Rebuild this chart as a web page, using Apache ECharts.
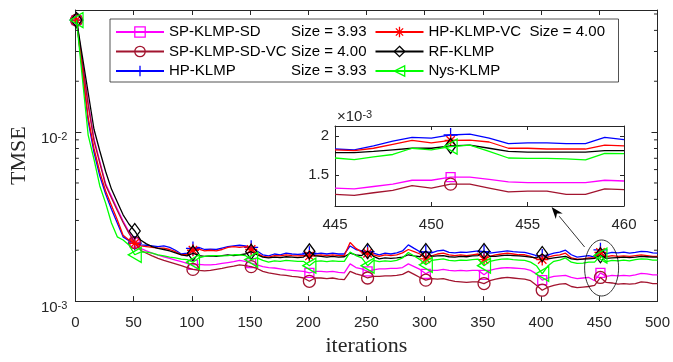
<!DOCTYPE html>
<html><head><meta charset="utf-8">
<script src="https://cdn.jsdelivr.net/npm/echarts@6/dist/echarts.min.js"></script>
<style>html,body{margin:0;padding:0;background:#fff}#c{width:673px;height:362px}</style>
</head><body><div id="c"></div>
<script>
// ---------- data (TMSE values in units of 1e-3) ----------
const iterations = [1,6,11,16,21,26,31,36,41,46,51,56,61,66,71,76,81,86,91,96,101,106,111,116,121,126,131,136,141,146,151,156,161,166,171,176,181,186,191,196,201,206,211,216,221,226,231,236,241,246,251,256,261,266,271,276,281,286,291,296,301,306,311,316,321,326,331,336,341,346,351,356,361,366,371,376,381,386,391,396,401,406,411,416,421,426,431,436,441,446,451,456,461,466,471,476,481,486,491,496,500];

const seriesNames = ['SP-KLMP-SD','SP-KLMP-SD-VC','HP-KLMP','HP-KLMP-VC','RF-KLMP','Nys-KLMP'];
const sizeLabels  = ['3.93','4.00','3.93','4.00','',''];
const legendOrder = ['SP-KLMP-SD','HP-KLMP-VC','SP-KLMP-SD-VC','RF-KLMP','HP-KLMP','Nys-KLMP'];
const legendCol2  = ['HP-KLMP-VC','RF-KLMP','Nys-KLMP'];

const spSD = [46,26.2,14.9,9.12,6.71,4.94,4.17,3.52,2.98,2.57,
 2.22,2.05,1.98,1.92,1.87,1.83,1.79,1.75,1.71,1.67,
 1.64,1.65,1.64,1.64,1.65,1.67,1.69,1.71,1.74,1.72,
 1.68,1.64,1.60,1.58,1.57,1.55,1.53,1.52,1.51,1.50,
 1.47,1.50,1.50,1.49,1.50,1.48,1.47,1.66,1.58,1.55,
 1.50,1.53,1.55,1.55,1.56,1.56,1.58,1.66,1.60,1.54,
 1.45,1.52,1.52,1.54,1.52,1.51,1.52,1.51,1.52,1.52,
 1.43,1.52,1.55,1.57,1.58,1.57,1.56,1.55,1.52,1.45,
 1.33,1.37,1.40,1.41,1.42,1.38,1.36,1.37,1.38,1.32,
 1.47,1.40,1.42,1.41,1.42,1.41,1.43,1.46,1.45,1.43,
 1.43];
const spSDVC = [46,25.6,14.5,8.9,6.55,4.85,4.08,3.44,2.92,2.52,
 2.22,2.00,1.92,1.85,1.79,1.74,1.70,1.66,1.62,1.58,
 1.54,1.52,1.51,1.52,1.54,1.56,1.59,1.61,1.64,1.62,
 1.60,1.56,1.50,1.47,1.45,1.43,1.42,1.40,1.39,1.37,
 1.31,1.37,1.37,1.36,1.37,1.35,1.34,1.50,1.45,1.42,
 1.37,1.40,1.40,1.41,1.41,1.42,1.44,1.50,1.44,1.38,
 1.33,1.36,1.35,1.36,1.33,1.31,1.30,1.29,1.30,1.30,
 1.27,1.32,1.35,1.37,1.38,1.37,1.36,1.35,1.32,1.24,
 1.16,1.21,1.24,1.26,1.27,1.22,1.20,1.21,1.22,1.24,
 1.38,1.29,1.28,1.26,1.27,1.26,1.27,1.30,1.29,1.27,
 1.27];
const hp = [46,23.0,11.6,7.6,5.5,4.3,3.5,2.9,2.4,2.28,
 2.20,2.15,2.14,2.12,2.10,2.12,2.08,2.00,1.90,1.92,
 2.05,2.08,2.02,2.03,2.02,2.06,2.10,2.12,2.14,2.12,
 2.08,1.98,1.88,1.85,1.90,1.88,1.92,1.90,1.89,1.90,
 1.92,1.90,1.92,1.90,1.92,1.90,1.90,2.12,2.02,1.98,
 1.96,1.92,1.88,1.92,1.90,1.93,1.98,2.15,2.05,1.96,
 1.95,1.93,1.98,2.00,1.94,1.93,1.95,1.94,1.96,1.98,
 1.96,1.92,1.94,1.96,1.98,1.96,1.95,1.94,1.90,1.86,
 1.85,1.88,1.92,1.95,2.00,1.88,1.82,1.84,1.86,1.82,
 2.01,1.91,1.94,1.93,1.95,1.92,1.94,1.97,1.96,1.93,
 1.92];
const hpVC = [46,23.7,12.2,8.0,5.8,4.48,3.68,3.03,2.45,2.30,
 2.20,2.12,2.10,2.08,2.06,2.06,2.02,1.96,1.88,1.88,
 2.00,2.03,1.98,2.00,1.98,2.02,2.08,2.10,2.08,2.10,
 2.02,1.92,1.84,1.82,1.86,1.85,1.88,1.86,1.85,1.86,
 1.85,1.86,1.88,1.86,1.88,1.86,1.86,2.22,2.05,1.95,
 1.92,1.88,1.84,1.88,1.86,1.88,1.93,2.02,1.96,1.90,
 1.78,1.85,1.90,1.92,1.88,1.86,1.88,1.86,1.88,1.90,
 1.76,1.84,1.88,1.90,1.92,1.90,1.88,1.88,1.84,1.78,
 1.76,1.82,1.86,1.88,1.92,1.80,1.77,1.78,1.80,1.81,
 1.94,1.83,1.86,1.84,1.85,1.84,1.86,1.88,1.86,1.84,
 1.84];
const rf = [46,28.1,17.1,10.4,7.73,5.85,4.6,3.86,3.24,2.86,
 2.60,2.30,2.18,2.10,2.05,2.02,1.98,1.93,1.88,1.85,
 1.92,1.86,1.84,1.85,1.84,1.86,1.88,1.86,1.88,1.90,
 1.96,1.88,1.82,1.80,1.82,1.81,1.83,1.82,1.81,1.82,
 1.97,1.85,1.84,1.82,1.84,1.82,1.83,1.92,1.88,1.86,
 1.98,1.84,1.78,1.80,1.79,1.80,1.82,1.88,1.85,1.83,
 1.98,1.84,1.85,1.86,1.83,1.82,1.84,1.83,1.85,1.86,
 1.98,1.84,1.84,1.86,1.87,1.86,1.85,1.84,1.82,1.80,
 1.90,1.78,1.80,1.82,1.84,1.78,1.76,1.77,1.78,1.79,
 1.87,1.79,1.80,1.81,1.82,1.81,1.82,1.84,1.83,1.82,
 1.82];
const nys = [46,20.9,9.6,6.9,4.8,3.8,2.9,2.4,2.3,2.15,
 1.88,1.95,1.95,1.92,1.88,1.85,1.82,1.80,1.77,1.76,
 1.70,1.80,1.84,1.86,1.86,1.85,1.86,1.88,1.88,1.86,
 1.76,1.80,1.74,1.70,1.73,1.72,1.74,1.73,1.72,1.72,
 1.62,1.72,1.73,1.71,1.73,1.72,1.72,1.95,1.86,1.80,
 1.62,1.74,1.71,1.73,1.72,1.74,1.80,1.94,1.85,1.76,
 1.64,1.74,1.76,1.78,1.74,1.73,1.75,1.74,1.76,1.77,
 1.62,1.72,1.75,1.77,1.78,1.76,1.75,1.74,1.70,1.62,
 1.45,1.62,1.72,1.75,1.80,1.70,1.67,1.68,1.70,1.70,
 1.86,1.71,1.74,1.73,1.75,1.73,1.76,1.78,1.77,1.75,
 1.75];

// zoomed inset (iterations 445..460)
const insetIter = [445,446,447,448,449,450,451,452,453,454,455,456,457,458,459,460];
const insetSD   = [1.33,1.32,1.35,1.38,1.43,1.43,1.47,1.47,1.44,1.41,1.40,1.40,1.40,1.40,1.43,1.42];
const insetSDVC = [1.25,1.235,1.27,1.30,1.36,1.33,1.38,1.38,1.33,1.28,1.29,1.29,1.25,1.25,1.32,1.31];
const insetHP   = [1.83,1.82,1.87,1.93,1.98,1.97,2.01,2.02,1.97,1.90,1.91,1.91,1.90,1.90,1.98,1.95];
const insetHPVC = [1.82,1.81,1.84,1.89,1.94,1.91,1.94,1.945,1.92,1.84,1.84,1.83,1.83,1.83,1.88,1.87];
const insetRF   = [1.785,1.785,1.80,1.82,1.84,1.84,1.87,1.88,1.84,1.80,1.79,1.79,1.79,1.79,1.81,1.81];
const insetNys  = [1.715,1.695,1.73,1.76,1.84,1.82,1.86,1.88,1.80,1.715,1.71,1.71,1.705,1.69,1.775,1.77];

const minorTickValues = [0.002,0.003,0.004,0.005,0.006,0.007,0.008,0.009,0.02,0.03,0.04,0.05];
const insetYTicks = [1.5, 2];

// ---------- styles ----------
const mainData = [spSD, spSDVC, hp, hpVC, rf, nys];
const insetData = [insetSD, insetSDVC, insetHP, insetHPVC, insetRF, insetNys];
const colors = ['#FF00FF','#A2142F','#0000FF','#FF0000','#000000','#00FF00'];
const symbols = ['rect','circle',
  'path://M5,0V10M0,5H10',
  'path://M5,0V10M0,5H10M1.5,1.5L8.5,8.5M1.5,8.5L8.5,1.5',
  'path://M5,0L10,7L5,14L0,7Z',
  'path://M0,5L10,0L10,10Z'];
const symbolSizes = [9, 12, 14, 12, [11,15], [13,15]];
const AX = '#262626';
const SANS = 'Liberation Sans';
const SERIF = 'Liberation Serif';

function lineSeries(k, xIdx, yIdx, data, isMarker, z) {
  return {
    type: 'line', name: (z > 5 ? 'inset ' : '') + seriesNames[k],
    xAxisIndex: xIdx, yAxisIndex: yIdx,
    data: data, symbol: symbols[k],
    symbolSize: (v) => isMarker(v[0]) ? symbolSizes[k] : 0,
    showSymbol: true, showAllSymbol: true,
    lineStyle: { color: colors[k], width: 1.3 },
    itemStyle: { color: 'rgba(0,0,0,0)', borderColor: colors[k], borderWidth: 1.3 },
    emphasis: { disabled: true }, silent: true, animation: false, z: z + k * 0.01, clip: true
  };
}

const series = [];
mainData.forEach((d, k) => series.push(lineSeries(k, 0, 0,
  iterations.map((x, i) => [x, d[i] * 1e-3]), x => x % 50 === 1 && x <= 451, 2)));
insetData.forEach((d, k) => series.push(lineSeries(k, 2, 2,
  insetIter.map((x, i) => [x, d[i]]), x => x === 451, 7)));

const expLabel = v => {
  const e = Math.log10(v), r = Math.round(e);
  if (Math.abs(e - r) > 1e-6) return '';
  return '{b|10}{s|' + r + '}';
};
const supRich = {
  b: { fontSize: 15, fontFamily: SANS, color: AX, lineHeight: 15, padding: [3,0,0,0], verticalAlign: 'bottom' },
  s: { fontSize: 11, fontFamily: SANS, color: AX, lineHeight: 11, verticalAlign: 'top' }
};
const lineAx = { onZero: false, lineStyle: { color: AX, width: 1 } };

const chart = echarts.init(document.getElementById('c'), null, { renderer: 'canvas' });
chart.setOption({
  animation: false,
  backgroundColor: '#fff',
  grid: [
    { left: 74, right: 12, top: 10, bottom: 54 },
    { left: 335, top: 126, width: 289, height: 80, show: true, backgroundColor: '#fff', borderWidth: 0, z: 5 }
  ],
  xAxis: [
    { gridIndex: 0, type: 'value', position: 'bottom', min: 0, max: 500, interval: 50,
      axisLine: lineAx, axisTick: { inside: true, length: 5, lineStyle: { color: AX } },
      axisLabel: { color: AX, fontSize: 15, fontFamily: SANS, margin: 14 }, splitLine: { show: false },
      name: 'iterations', nameLocation: 'middle', nameGap: 28,
      nameTextStyle: { fontFamily: SERIF, fontSize: 22, color: AX } },
    { gridIndex: 0, type: 'value', position: 'top', min: 0, max: 500, interval: 50,
      axisLine: lineAx, axisTick: { inside: true, length: 5, lineStyle: { color: AX } },
      axisLabel: { show: false }, splitLine: { show: false } },
    { gridIndex: 1, type: 'value', position: 'bottom', min: 445, max: 460, interval: 5, z: 6,
      axisLine: lineAx, axisTick: { inside: true, length: 4, lineStyle: { color: AX } },
      axisLabel: { color: AX, fontSize: 15, fontFamily: SANS, margin: 11 }, splitLine: { show: false } },
    { gridIndex: 1, type: 'value', position: 'top', min: 445, max: 460, interval: 5, z: 6,
      axisLine: lineAx, axisTick: { inside: true, length: 4, lineStyle: { color: AX } },
      axisLabel: { show: false }, splitLine: { show: false } }
  ],
  yAxis: [
    { gridIndex: 0, type: 'log', position: 'left', min: 0.001, max: 0.0528,
      axisLine: lineAx, axisTick: { inside: true, length: 6, lineStyle: { color: AX } },
      axisLabel: { formatter: expLabel, rich: supRich, margin: 8, padding: [14,0,0,0],
        verticalAlignMinLabel: 'middle', verticalAlignMaxLabel: 'middle' },
      splitLine: { show: false },
      name: 'TMSE', nameLocation: 'middle', nameGap: 44,
      nameTextStyle: { fontFamily: SERIF, fontSize: 22, color: AX } },
    { gridIndex: 0, type: 'log', position: 'right', min: 0.001, max: 0.0528,
      axisLine: lineAx, axisTick: { inside: true, length: 6, lineStyle: { color: AX } },
      axisLabel: { show: false }, splitLine: { show: false } },
    { gridIndex: 1, type: 'value', position: 'left', min: 1.1, max: 2.125, z: 6,
      axisLine: lineAx,
      axisTick: { inside: true, length: 4, lineStyle: { color: AX }, customValues: insetYTicks },
      axisLabel: { color: AX, fontSize: 15, fontFamily: SANS, margin: 6, customValues: insetYTicks },
      splitLine: { show: false },
      name: '{x|×10}{s|-3}', nameLocation: 'end', nameGap: 2,
      nameTextStyle: { align: 'left', verticalAlign: 'bottom', padding: [0,0,0,2],
        rich: { x: { fontSize: 15, fontFamily: SANS, color: AX, lineHeight: 15, padding: [3,0,0,0], verticalAlign: 'bottom' },
                s: { fontSize: 11, fontFamily: SANS, color: AX, lineHeight: 11, verticalAlign: 'top' } } } },
    { gridIndex: 1, type: 'value', position: 'right', min: 1.1, max: 2.125, z: 6,
      axisLine: lineAx,
      axisTick: { inside: true, length: 4, lineStyle: { color: AX }, customValues: insetYTicks },
      axisLabel: { show: false }, splitLine: { show: false } }
  ],
  legend: {
    data: legendOrder, left: 110, top: 19, width: 500, orient: 'horizontal',
    padding: [5, 9, 3, 5], itemGap: 3.5, itemWidth: 48, itemHeight: 13,
    backgroundColor: '#fff', borderColor: AX, borderWidth: 0.8, selectedMode: false, z: 4,
    itemStyle: { borderWidth: 1.3 },
    textStyle: { fontFamily: SANS, fontSize: 15, color: '#000', lineHeight: 16,
      rich: {
        a: { width: 122, fontFamily: SANS, fontSize: 15, color: '#000', lineHeight: 16 },
        c: { width: 101, fontFamily: SANS, fontSize: 15, color: '#000', lineHeight: 16 },
        s: { width: 80, fontFamily: SANS, fontSize: 15, color: '#000', lineHeight: 16 }
      } },
    formatter: name => {
      const k = seriesNames.indexOf(name);
      const tag = legendCol2.indexOf(name) >= 0 ? 'c' : 'a';
      return '{' + tag + '|' + name + '}' + (sizeLabels[k] ? '{s|Size = ' + sizeLabels[k] + '}' : '');
    }
  },
  series: series
});

// minor log ticks, ellipse and arrow annotation
const g = [];
const xL = chart.convertToPixel({ xAxisIndex: 0 }, 0);
const xR = chart.convertToPixel({ xAxisIndex: 0 }, 500);
minorTickValues.forEach(v => {
  const y = chart.convertToPixel({ yAxisIndex: 0 }, v);
  g.push({ type: 'line', shape: { x1: xL, y1: y, x2: xL + 3.5, y2: y }, style: { stroke: AX, lineWidth: 1 }, silent: true, z: 3 });
  g.push({ type: 'line', shape: { x1: xR - 3.5, y1: y, x2: xR, y2: y }, style: { stroke: AX, lineWidth: 1 }, silent: true, z: 3 });
});
const c = chart.convertToPixel({ xAxisIndex: 0, yAxisIndex: 0 }, [452, 0.00157]);
g.push({ type: 'ellipse', shape: { cx: c[0], cy: c[1], rx: 17, ry: 28 }, style: { fill: 'none', stroke: '#000', lineWidth: 0.8 }, silent: true, z: 10 });
const s0 = [c[0] - 17, c[1] - 21], tip = [c[0] - 50, c[1] - 61];
const dx = tip[0] - s0[0], dy = tip[1] - s0[1], len = Math.hypot(dx, dy);
const ux = dx / len, uy = dy / len, nx = -uy, ny = ux;
const hl = 12, hw = 4.5;
const bx = tip[0] - ux * hl, by = tip[1] - uy * hl;
g.push({ type: 'line', shape: { x1: s0[0], y1: s0[1], x2: bx, y2: by }, style: { stroke: '#000', lineWidth: 0.8 }, silent: true, z: 10 });
g.push({ type: 'polygon', shape: { points: [tip, [bx + nx * hw, by + ny * hw], [tip[0] - ux * hl * 0.7, tip[1] - uy * hl * 0.7], [bx - nx * hw, by - ny * hw]] },
  style: { fill: '#000' }, silent: true, z: 10 });
chart.setOption({ graphic: g });
</script>
</body></html>
